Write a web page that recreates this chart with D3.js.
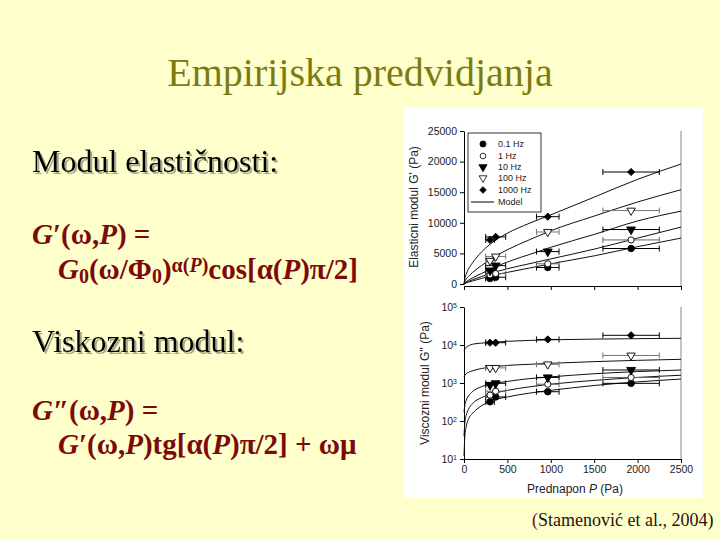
<!DOCTYPE html>
<html><head><meta charset="utf-8">
<script src="https://cdn.jsdelivr.net/npm/d3@7"></script>
<style>body{margin:0;background:#ffffcc;} svg{display:block;}</style>
</head><body>
<svg id="c" width="720" height="540"></svg>
<script>
// ---- data ----
const frequencies = ["0.1 Hz", "1 Hz", "10 Hz", "100 Hz", "1000 Hz"];
const prestress = [300, 365, 965, 1925];
const prestressErr = [50, 115, 130, 325];
const gPrime_01 = [900, 1100, 2700, 5800];
const gPrime_1 = [1500, 1700, 3300, 7200];
const gPrime_10 = [2200, 3000, 5300, 8900];
const gPrime_100 = [3800, 4500, 8500, 12000];
const gPrime_1000 = [7200, 7700, 11000, 18300];
const gDouble_01 = [320, 430, 590, 980];
const gDouble_1 = [480, 610, 930, 1400];
const gDouble_10 = [890, 980, 1400, 2200];
const gDouble_100 = [2500, 2500, 3100, 5300];
const gDouble_1000 = [11500, 11500, 14000, 18000];
const modelP = [0, 10, 25, 50, 100, 200, 300, 500, 750, 1000, 1500, 2000, 2500];
const modelG1_01 = [0, 90, 170, 300, 500, 900, 1300, 1900, 2600, 3300, 4600, 6100, 7500];
const modelG1_1 = [0, 130, 250, 400, 700, 1200, 1700, 2500, 3300, 4100, 5700, 7500, 9300];
const modelG1_10 = [0, 200, 380, 600, 1000, 1700, 2400, 3600, 4800, 6000, 8100, 10300, 11900];
const modelG1_100 = [0, 450, 800, 1200, 1900, 3000, 4000, 5600, 7200, 8700, 11100, 13400, 15400];
const modelG1_1000 = [0, 900, 1600, 2400, 3500, 5200, 6500, 8300, 9900, 11300, 14200, 17100, 19600];
const modelG2_01 = [12, 40, 70, 110, 160, 250, 330, 430, 540, 640, 860, 1070, 1270];
const modelG2_1 = [40, 90, 140, 200, 290, 410, 500, 640, 790, 930, 1170, 1400, 1600];
const modelG2_10 = [170, 260, 350, 450, 600, 800, 930, 1100, 1300, 1450, 1750, 2000, 2200];
const modelG2_100 = [1500, 1600, 1750, 1900, 2100, 2400, 2600, 2900, 3100, 3300, 3650, 3950, 4200];
const modelG2_1000 = [7000, 7800, 8700, 9500, 10500, 11200, 11700, 12500, 13200, 13700, 14300, 14700, 15000];
const xTicks = [0, 500, 1000, 1500, 2000, 2500];
const yTicksTop = [0, 5000, 10000, 15000, 20000, 25000];
const yExpBottom = [1, 2, 3, 4, 5];

const gPrime = [gPrime_01, gPrime_1, gPrime_10, gPrime_100, gPrime_1000];
const gDouble = [gDouble_01, gDouble_1, gDouble_10, gDouble_100, gDouble_1000];
const modelTop = [modelG1_01, modelG1_1, modelG1_10, modelG1_100, modelG1_1000];
const modelBot = [modelG2_01, modelG2_1, modelG2_10, modelG2_100, modelG2_1000];
const markerType = [d3.symbolCircle, d3.symbolCircle, d3.symbolTriangle, d3.symbolTriangle, d3.symbolSquare];
const markerRot = ["", "", " rotate(180)", " rotate(180)", " rotate(45)"];
const markerFill = ["#000", "#fff", "#000", "#fff", "#000"];
const markerSize = [34, 30, 34, 30, 26];
const errColor = ["#000", "#666", "#000", "#777", "#000"];

const svg = d3.select("#c");
const serif = "'Liberation Serif','Times New Roman',serif";
const sans = "'Liberation Sans',Arial,sans-serif";

const defs = svg.append("defs");
const f = defs.append("filter").attr("id", "sh").attr("x", "-5%").attr("y", "-20%").attr("width", "115%").attr("height", "150%");
f.append("feDropShadow").attr("dx", 2).attr("dy", 2).attr("stdDeviation", 0.4)
  .attr("flood-color", "#a8a890").attr("flood-opacity", 1);

// ---- slide text ----
svg.append("text").attr("x", 360).attr("y", 86).attr("text-anchor", "middle")
  .attr("font-family", serif).attr("font-size", 40).attr("fill", "#7d7a12")
  .text("Empirijska predvidjanja");

function shadowText(x, y, s) {
  svg.append("text").attr("x", x).attr("y", y).attr("font-family", serif)
    .attr("font-size", 32).attr("fill", "#000").attr("filter", "url(#sh)").text(s);
}
shadowText(32, 172, "Modul elastičnosti:");
shadowText(32, 352, "Viskozni modul:");

const red = "#7c0a0a";
function formula(x, y, parts) {
  const t = svg.append("text").attr("x", x).attr("y", y).attr("font-family", serif)
    .attr("font-size", 29).attr("font-weight", "bold").attr("fill", red);
  parts.forEach(p => {
    const ts = t.append("tspan").text(p.t);
    if (p.i) ts.attr("font-style", "italic");
    if (p.sub) ts.attr("baseline-shift", "-4").attr("font-size", 20);
    if (p.sup) ts.attr("baseline-shift", "7").attr("font-size", 20);
  });
}
formula(32, 244, [{t: "G", i: 1}, {t: "′(ω,"}, {t: "P", i: 1}, {t: ") ="}]);
formula(58, 279, [{t: "G", i: 1}, {t: "0", sub: 1}, {t: "(ω/Φ"}, {t: "0", sub: 1}, {t: ")"},
  {t: "α(", sup: 1}, {t: "P", sup: 1, i: 1}, {t: ")", sup: 1}, {t: "cos[α("}, {t: "P", i: 1}, {t: ")π/2]"}]);
formula(32, 420, [{t: "G", i: 1}, {t: "″(ω,"}, {t: "P", i: 1}, {t: ") ="}]);
formula(58, 454, [{t: "G", i: 1}, {t: "′(ω,"}, {t: "P", i: 1}, {t: ")tg[α("}, {t: "P", i: 1}, {t: ")π/2] + ωμ"}]);

const foot = svg.append("text").attr("x", 532).attr("y", 526).attr("font-family", serif)
  .attr("font-size", 18).attr("fill", "#2a1010");
foot.append("tspan").attr("fill", red).text("(");
foot.append("tspan").text("Stamenović et al., 2004)");

// ---- chart panel ----
svg.append("rect").attr("x", 404).attr("y", 108).attr("width", 299).attr("height", 390).attr("fill", "#fff");

const x = d3.scaleLinear().domain([0, 2500]).range([464, 681]);
const yTop = d3.scaleLinear().domain([0, 25000]).range([284, 131]);
const yBot = d3.scaleLog().domain([10, 100000]).range([459, 307]);

function styleAxis(g) {
  g.selectAll("path,line").attr("stroke", "#000").attr("stroke-width", 1);
  g.selectAll("text").attr("font-family", sans).attr("font-size", 10.5).attr("fill", "#222");
}

// top axes
const gTop = svg.append("g");
gTop.append("g").attr("transform", "translate(464,0)")
  .call(d3.axisLeft(yTop).tickValues(yTicksTop).tickSize(4).tickSizeOuter(0).tickFormat(d3.format("d")))
  .call(styleAxis);
gTop.append("g").attr("transform", "translate(0,286)")
  .call(d3.axisBottom(x).tickValues(xTicks).tickSize(4).tickSizeOuter(0).tickFormat(""))
  .call(styleAxis);
gTop.append("line").attr("x1", 681).attr("x2", 681).attr("y1", 131).attr("y2", 286).attr("stroke", "#888");
svg.append("text").attr("transform", "translate(418,207) rotate(-90)").attr("text-anchor", "middle")
  .attr("font-family", sans).attr("font-size", 12).attr("fill", "#222").text("Elasticni modul G' (Pa)");

// bottom axes
const gBot = svg.append("g");
const yAx = gBot.append("g").attr("transform", "translate(464,0)")
  .call(d3.axisLeft(yBot).tickValues(yExpBottom.map(e => Math.pow(10, e))).tickSize(4).tickSizeOuter(0).tickFormat(""))
  .call(styleAxis);
yAx.selectAll(".tick").each(function(d, i) {
  const t = d3.select(this).append("text").attr("x", -7).attr("dy", "0.35em").attr("text-anchor", "end")
    .attr("font-family", sans).attr("font-size", 10.5).attr("fill", "#222");
  t.append("tspan").text("10");
  t.append("tspan").attr("baseline-shift", "super").attr("font-size", 7).text(yExpBottom[i]);
});
gBot.append("g").attr("transform", "translate(0,459)")
  .call(d3.axisBottom(x).tickValues(xTicks).tickSize(4).tickSizeOuter(0).tickFormat(d3.format("d")))
  .call(styleAxis);
gBot.append("line").attr("x1", 681).attr("x2", 681).attr("y1", 307).attr("y2", 459).attr("stroke", "#888");
svg.append("text").attr("transform", "translate(429,383) rotate(-90)").attr("text-anchor", "middle")
  .attr("font-family", sans).attr("font-size", 12).attr("fill", "#222").text("Viscozni modul G'' (Pa)");
const xt = svg.append("text").attr("x", 575).attr("y", 493).attr("text-anchor", "middle")
  .attr("font-family", sans).attr("font-size", 12).attr("fill", "#222");
xt.append("tspan").text("Prednapon ");
xt.append("tspan").attr("font-style", "italic").text("P");
xt.append("tspan").text(" (Pa)");

// model lines
function drawModels(models, y) {
  models.forEach(m => {
    const line = d3.line().x((d, i) => x(modelP[i])).y(d => y(d)).curve(d3.curveMonotoneX);
    svg.append("path").attr("d", line(m)).attr("fill", "none").attr("stroke", "#111").attr("stroke-width", 1);
  });
}
drawModels(modelTop, yTop);
drawModels(modelBot, yBot);

// points with x error bars
function drawPoints(series, y) {
  series.forEach((vals, s) => {
    vals.forEach((v, i) => {
      const px = prestress[i], e = prestressErr[i], yy = y(v);
      const g = svg.append("g").attr("stroke", errColor[s]).attr("stroke-width", 1);
      g.append("line").attr("x1", x(px - e)).attr("x2", x(px + e)).attr("y1", yy).attr("y2", yy);
      g.append("line").attr("x1", x(px - e)).attr("x2", x(px - e)).attr("y1", yy - 3).attr("y2", yy + 3);
      g.append("line").attr("x1", x(px + e)).attr("x2", x(px + e)).attr("y1", yy - 3).attr("y2", yy + 3);
    });
  });
  series.forEach((vals, s) => {
    vals.forEach((v, i) => {
      svg.append("path").attr("d", d3.symbol(markerType[s], markerSize[s])())
        .attr("transform", `translate(${x(prestress[i])},${y(v)})${markerRot[s]}`)
        .attr("fill", markerFill[s]).attr("stroke", "#000").attr("stroke-width", 0.9);
    });
  });
}
drawPoints(gPrime, yTop);
drawPoints(gDouble, yBot);

// legend
const lg = svg.append("g");
lg.append("rect").attr("x", 468).attr("y", 133).attr("width", 73).attr("height", 79)
  .attr("fill", "#fff").attr("stroke", "#000").attr("stroke-width", 0.8);
const rowsY = [144, 156, 167, 178, 190];
frequencies.forEach((name, s) => {
  lg.append("path").attr("d", d3.symbol(markerType[s], markerSize[s] * 0.85)())
    .attr("transform", `translate(483,${rowsY[s]})${markerRot[s]}`)
    .attr("fill", markerFill[s]).attr("stroke", "#000").attr("stroke-width", 0.8);
  lg.append("text").attr("x", 498).attr("y", rowsY[s]).attr("dy", "0.35em")
    .attr("font-family", sans).attr("font-size", 9).attr("fill", "#222").text(name);
});
lg.append("line").attr("x1", 471).attr("x2", 494).attr("y1", 202).attr("y2", 202).attr("stroke", "#000");
lg.append("text").attr("x", 498).attr("y", 202).attr("dy", "0.35em")
  .attr("font-family", sans).attr("font-size", 9).attr("fill", "#222").text("Model");
</script>
</body></html>
